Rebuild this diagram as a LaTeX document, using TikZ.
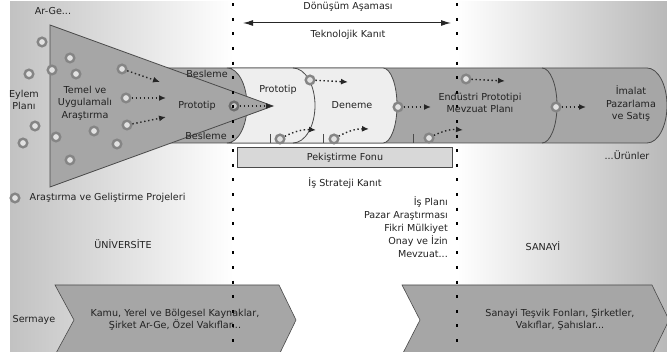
\documentclass[tikz,border=0pt]{standalone}
\usepackage{fontspec}
\setmainfont{DejaVu Sans}
\usetikzlibrary{positioning}
\usetikzlibrary{arrows.meta}
\definecolor{bandgrey}{HTML}{A6A6A6}
\definecolor{bandlight}{HTML}{EEEEEE}
\definecolor{edgegrey}{HTML}{4A4A4A}
\definecolor{ringgrey}{HTML}{858585}
\definecolor{ringfill}{HTML}{E2E2E2}
\definecolor{txt}{HTML}{222222}
\definecolor{fondfill}{HTML}{D8D8D8}

\begin{document}
\begin{tikzpicture}[x=1pt, y=-1pt, >={Latex[length=7pt,width=6pt]},
  every node/.style={font=\fontsize{9.6}{12.5}\selectfont, text=txt, inner sep=1pt},
  ring/.style={circle, draw=ringgrey, line width=2.4pt, fill=ringfill, minimum size=8.6pt, inner sep=0pt},
  flow/.style={->, draw=black!85, line width=1.4pt, dash pattern=on 1.4pt off 2.6pt},
  border/.style={draw=edgegrey, line width=0.8pt},
  dots/.style={draw=black, line width=2.8pt, dash pattern=on 3pt off 11.6pt},
  tick/.style={draw=edgegrey, line width=0.8pt},
  lbl/.style={align=center}]

  \useasboundingbox (0,0) rectangle (667,352);

  % background
  \shade[left color=gray!48, right color=white] (10,2) rectangle (233,352);
  \shade[left color=white, right color=gray!55] (457,2) rectangle (667,352);

  % band with its cells
  \path[border, fill=bandgrey] (165,68) -- (647,68)
    arc[start angle=90, end angle=-90, x radius=20pt, y radius=37.5pt] -- (165,143) -- cycle;
  \path[border, fill=bandlight] (227,68)
    arc[start angle=90, end angle=-90, x radius=20pt, y radius=37.5pt] -- (383,143)
    arc[start angle=-90, end angle=90, x radius=14pt, y radius=37.5pt] -- cycle;
  \path[border] (293,68) arc[start angle=90, end angle=-90, x radius=22pt, y radius=37.5pt];
  \path[border] (542,68) arc[start angle=90, end angle=-90, x radius=15pt, y radius=37.5pt];

  % funnel
  \path[border, fill=bandgrey] (50,25) -- (273,106) -- (50,187) -- cycle;
  \coordinate (apex) at (273,106);

  % funds
  \path[border, line width=0.6pt, fill=bandgrey] (55,285) -- (279,285) -- (296,320) -- (279,355) -- (55,355) -- (74,320) -- cycle;
  \path[border, line width=0.6pt, fill=bandgrey] (402,285) -- (652,285) -- (669,320) -- (652,355) -- (402,355) -- (420,320) -- cycle;

  \node[border, fill=fondfill, minimum width=215pt, minimum height=20pt] (fon) at (345,157.5) {Pekiştirme Fonu};

  % projects
  \node[ring] (r1) at (42,42) {};
  \node[ring] (r2) at (70,58) {};
  \node[ring] (r3) at (29,74) {};
  \node[ring] (r4) at (52,70) {};
  \node[ring] (r5) at (76,74) {};
  \node[ring] (r6) at (122,69) {};
  \node[ring] (r7) at (126,98) {};
  \node[ring] (r8) at (127,125) {};
  \node[ring] (r9) at (35,126) {};
  \node[ring] (r10) at (23,143) {};
  \node[ring] (r11) at (56,137) {};
  \node[ring] (r12) at (94,131) {};
  \node[ring] (r13) at (117,144) {};
  \node[ring] (r14) at (70,160) {};
  \node[ring, draw=edgegrey!80, fill=ringfill!75!gray] (pc) at (234,106) {};
  \node[ring] (pt) at (310,80) {};
  \node[ring] (b1) at (280,139) {};
  \node[ring] (b2) at (334,139) {};
  \node[ring] (b3) at (429,138) {};
  \node[ring] (dn) at (398,107) {};
  \node[ring] (en) at (466,79) {};
  \node[ring] (im) at (556,107) {};

  \coordinate (e6) at (160,82);
  \coordinate (e7) at (166,98);
  \coordinate (e8) at (166,117);
  \coordinate (ept) at (348,82);
  \coordinate (eb1) at (316,130);
  \coordinate (eb2) at (369,129);
  \coordinate (eb3) at (463,130);
  \coordinate (edn) at (431,107);
  \coordinate (een) at (505,81);
  \coordinate (eim) at (586,107);

  \draw[tick] (270,134) -- (270,143);
  \draw[tick] (323,134) -- (323,143);
  \draw[tick] (413,134) -- (413,143);

  \path
    (r6) edge[flow] (e6)
    (r7) edge[flow] (e7)
    (r8) edge[flow] (e8)
    (pc) edge[flow] (apex)
    (pt) edge[flow] (ept)
    (b1) edge[flow, bend left=15] (eb1)
    (b2) edge[flow, bend left=15] (eb2)
    (b3) edge[flow, bend left=15] (eb3)
    (dn) edge[flow] (edn)
    (en) edge[flow] (een)
    (im) edge[flow] (eim)
  ;

  % stage borders
  \coordinate (lt) at (233,3.3);
  \coordinate (lb) at (233,352);
  \coordinate (rt) at (457,3.3);
  \coordinate (rb) at (457,352);
  \draw[dots] (lt) -- (lb);
  \draw[dots] (rt) -- (rb);

  % labels
  \node (argo) at (53,11) {Ar-Ge...};
  \node[lbl] (eylem) at (24,100) {Eylem\\Planı};
  \node[lbl] (temel) at (85,103) {Temel ve\\Uygulamalı\\Araştırma};
  \node (besT) at (207,74) {Besleme};
  \node (protoA) at (197,106) {Prototip};
  \node (besB) at (206,136) {Besleme};
  \node (protoB) at (278,90) {Prototip};
  \node (deneme) at (352,105) {Deneme};
  \node[lbl] (endus) at (480,103) {Endüstri Prototipi\\Mevzuat Planı};
  \node[lbl] (imalat) at (631,104) {İmalat\\Pazarlama\\ve Satış};
  \node (urun) at (627,155) {...Ürünler};

  \coordinate (dl) at (243,23);
  \coordinate (dr) at (451,23);
  \draw[{Latex[length=10pt,width=6pt]}-{Latex[length=10pt,width=6pt]}, draw=black!85, line width=1pt] (dl) -- (dr);
  \node (donusum) at (348,7) {Dönüşüm Aşaması};
  \node (tekno) at (348,35) {Teknolojik Kanıt};
  \node (isstrat) at (345,183) {İş Strateji Kanıt};

  \node[ring] (leg) at (15,198) {};
  \node[right=8pt of leg] (legt) {Araştırma ve Geliştirme Projeleri};
  \node[align=right, anchor=east, font=\fontsize{9.6}{13}\selectfont] (isplan) at (449,227)
    {İş Planı\\Pazar Araştırması\\Fikri Mülkiyet\\Onay ve İzin\\Mevzuat...};

  \node (uni) at (123,244) {ÜNİVERSİTE};
  \node (san) at (543,246) {SANAYİ};
  \node (serm) at (34,320) {Sermaye};
  \node[lbl] (kamu) at (175,320) {Kamu, Yerel ve Bölgesel Kaynaklar,\\Şirket Ar-Ge, Özel Vakıflar...};
  \node[lbl] (sanfon) at (560,320) {Sanayi Teşvik Fonları, Şirketler,\\Vakıflar, Şahıslar...};
\end{tikzpicture}
\end{document}
